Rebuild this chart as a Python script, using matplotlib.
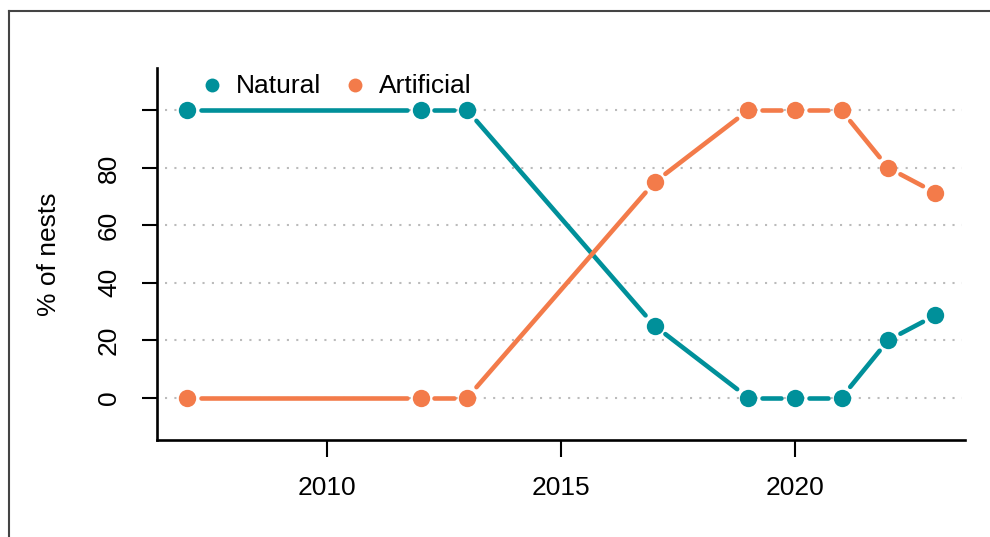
import matplotlib
matplotlib.use("Agg")
import matplotlib.pyplot as plt
from matplotlib.lines import Line2D
import numpy as np

plt.rcParams["font.family"] = ["Liberation Sans", "DejaVu Sans"]

# data
years = [2007, 2012, 2013, 2017, 2019, 2020, 2021, 2022, 2023]
natural = [100, 100, 100, 25, 0, 0, 0, 20, 28.6]
artificial = [0, 0, 0, 75, 100, 100, 100, 80, 71.4]
y_ticks = [0, 20, 40, 60, 80, 100]
y_tick_labels = ["0", "20", "40", "60", "80", ""]
x_ticks = [2010, 2015, 2020]
series_names = ["Natural", "Artificial"]

teal = "#00909A"
orange = "#F37B4A"

W, H = 990, 537
fig = plt.figure(figsize=(W / 100, H / 100), dpi=100)
ax = fig.add_axes([157 / W, 1 - 440 / H, (965 - 157) / W, (440 - 68) / H])
ax.set_xlim(2006.36, 2023.64)
ax.set_ylim(-14.8, 114.8)

# R style "l" box
for s in ["top", "right"]:
    ax.spines[s].set_visible(False)
for s in ["left", "bottom"]:
    ax.spines[s].set_linewidth(1.9)
    ax.spines[s].set_color("black")

# dotted grid
for y in y_ticks:
    ax.axhline(y, xmin=0.01, xmax=0.996, color="#BBBBBB", lw=1.5,
               linestyle=(0, (1, 3.5)), zorder=1)

ax.set_yticks(y_ticks)
ax.set_yticklabels(y_tick_labels, rotation=90, va="center")
ax.set_xticks(x_ticks)
ax.tick_params(axis="y", length=11, width=1.5, labelsize=19, pad=15)
ax.tick_params(axis="x", length=12, width=1.5, labelsize=19, pad=14)
ax.set_ylabel("% of nests", fontsize=19, labelpad=26)


def type_b(xs, ys, color, gap_px=16, lw=3.3):
    # lines with a gap around each point, like R's type = "b"
    trans = ax.transData
    pts = trans.transform(np.column_stack([xs, ys]))
    lw_px = lw * 100 / 72
    g = gap_px - lw_px / 2
    for p0, p1 in zip(pts[:-1], pts[1:]):
        d = p1 - p0
        L = np.hypot(*d)
        if L <= 2 * g:
            continue
        u = d / L
        a = trans.inverted().transform(p0 + u * g)
        b = trans.inverted().transform(p1 - u * g)
        ax.plot([a[0], b[0]], [a[1], b[1]], color=color, lw=lw,
                solid_capstyle="round", zorder=3)
    ax.plot(xs, ys, "o", color=color, ms=12.5, mec="none", zorder=4)


type_b(years, natural, teal)
type_b(years, artificial, orange)

# legend drawn by hand
for px, tx, name, c in [(212, 236, series_names[0], teal),
                        (355, 379, series_names[1], orange)]:
    fig.add_artist(Line2D([px / W], [1 - 85 / H], marker="o", ms=10,
                          color=c, mec="none", transform=fig.transFigure))
    fig.text(tx / W, 1 - 86 / H, name, fontsize=19, va="center", ha="left")

# outer frame (left and top)
fig.add_artist(Line2D([8.5 / W, 8.5 / W], [0, 1 - 10.5 / H], color="#444444",
                      lw=1.5, transform=fig.transFigure))
fig.add_artist(Line2D([8.5 / W, 1], [1 - 10.5 / H, 1 - 10.5 / H],
                      color="#444444", lw=1.5, transform=fig.transFigure))

fig.savefig("out.png", dpi=100)
